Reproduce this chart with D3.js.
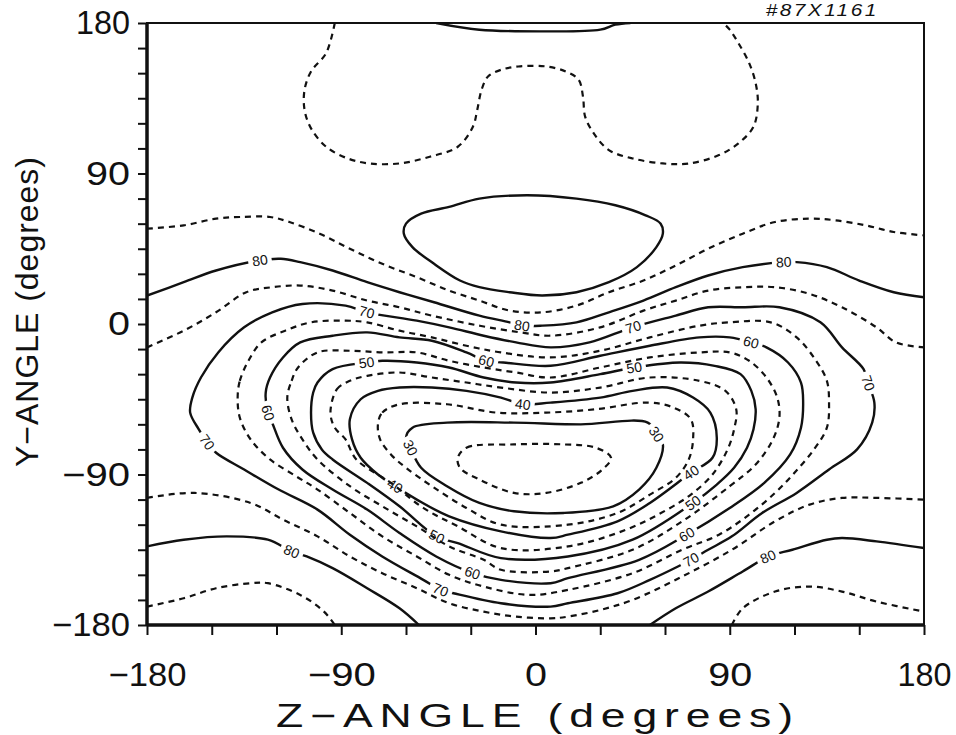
<!DOCTYPE html>
<head>
<meta charset="utf-8">
<style>
body {
    margin: 0;
    background: #fff;
}
svg {
    font-family: "Liberation Sans", Arial, sans-serif;
}
.contour {
    fill: none;
    stroke: #111;
    stroke-width: 2.4;
    stroke-linejoin: round;
}
.dashed {
    stroke-dasharray: 6,5;
    stroke-width: 2.2;
}
.clabel {
    font-size: 14px;
    fill: #111;
}
.tick text {
    font-size: 33px;
    fill: #111;
}
.tick line {
    stroke: #111;
    stroke-width: 2;
}
</style>
</head>
<body>
<div class="contour-viz"></div>

<script src="https://d3js.org/d3.v7.min.js"></script>

<script>
// contour lines, [z-angle, y-angle] in degrees
const top90 = [[-46,180],[-26,176],[2,175],[30,176],[37,179],[44,180]];
const oval90 = [[-4,77],[-26,75],[-40,70],[-53,66],[-60,60],[-61,54],[-57,46],[-47,36],[-35,26],[-26,22],[-12,19],[3,17],[19,19],[34,25],[47,34],[56,46],[59,54],[58,60],[51,65],[37,71],[19,75]];
const top85 = [[-93,180],[-97,162],[-104,151],[-107,140],[-107,128],[-104,117],[-97,106],[-87,99],[-77,96],[-63,96],[-49,100],[-36,106],[-29,118],[-27,128],[-25,140],[-22,148],[-16,152],[-8,154],[5,154],[14,151],[20,146],[22,136],[23,124],[27,114],[34,104],[45,99],[59,96],[71,96],[85,101],[94,108],[101,118],[103,132],[102,144],[99,156],[94,168],[90,176],[87,180]];
const upper85 = [[-180,57],[-163,59],[-148,63],[-137,64],[-123,64],[-114,61],[-100,54],[-86,45],[-71,36],[-55,28],[-40,20],[-26,14],[-12,8],[3,7],[19,11],[34,19],[50,26],[65,35],[80,45],[96,54],[111,61],[127,63],[139,62],[153,59],[166,55],[180,53]];
const upper80 = [[-180,17],[-163,25],[-148,32],[-128,38],[-118,39],[-109,37],[-94,32],[-78,25],[-63,19],[-47,13],[-26,5],[-12,1],[-6,-1],[3,-1],[19,1],[34,7],[50,14],[65,22],[80,29],[96,34],[115,37],[121,37],[135,34],[150,26],[166,19],[180,16]];
const upper75 = [[-180,-14],[-163,-4],[-148,7],[-134,19],[-122,22],[-109,23],[-94,20],[-78,14],[-63,10],[-48,5],[-26,-1],[-7,-5],[7,-7],[30,-2],[50,8],[65,14],[80,20],[96,22],[111,22],[127,18],[142,10],[158,-2],[167,-11],[180,-14]];
const loop70 = [[-160,-53],[-159,-44],[-155,-32],[-147,-17],[-135,-2],[-122,7],[-108,12],[-88,11],[-78,7],[-55,2],[-40,-2],[-24,-7],[-9,-11],[7,-14],[25,-11],[45,-2],[65,5],[80,10],[96,10],[113,10],[132,1],[142,-14],[152,-27],[154,-35],[157,-47],[156,-59],[149,-75],[136,-87],[121,-101],[105,-113],[91,-127],[80,-135],[72,-141],[66,-145],[53,-153],[38,-161],[15,-167],[7,-169],[-16,-167],[-38,-161],[-44,-159],[-52,-153],[-71,-139],[-86,-126],[-101,-111],[-119,-99],[-135,-87],[-148,-77],[-152,-71],[-156,-63]];
const loop65 = [[-138,-44],[-137,-34],[-133,-22],[-127,-11],[-116,-4],[-104,1],[-88,2],[-78,1],[-63,-4],[-48,-8],[-32,-13],[-16,-17],[7,-20],[30,-16],[53,-8],[76,-1],[90,1],[109,1],[121,-8],[130,-22],[135,-34],[136,-47],[135,-62],[129,-75],[120,-89],[111,-101],[99,-114],[85,-126],[68,-135],[45,-149],[15,-159],[-3,-162],[-24,-157],[-40,-150],[-55,-139],[-71,-127],[-86,-113],[-101,-99],[-111,-91],[-123,-81],[-132,-69],[-137,-56]];
const loop60 = [[-125,-41],[-123,-32],[-117,-20],[-109,-11],[-94,-7],[-78,-5],[-63,-8],[-48,-10],[-32,-17],[-23,-22],[-15,-23],[7,-25],[30,-19],[53,-13],[76,-8],[90,-8],[100,-11],[107,-14],[117,-23],[123,-35],[124,-47],[123,-62],[118,-78],[106,-95],[90,-110],[70,-126],[48,-141],[15,-152],[7,-155],[-16,-153],[-29,-149],[-46,-139],[-63,-125],[-78,-111],[-94,-99],[-108,-87],[-117,-74],[-122,-59],[-124,-53]];
const loop55 = [[-115,-44],[-113,-34],[-110,-26],[-101,-17],[-86,-16],[-71,-17],[-55,-17],[-40,-22],[-24,-26],[-9,-29],[7,-32],[30,-26],[53,-20],[76,-17],[90,-17],[99,-22],[107,-32],[112,-44],[113,-56],[110,-69],[102,-84],[90,-97],[68,-118],[45,-135],[15,-146],[7,-148],[-16,-147],[-24,-141],[-40,-133],[-55,-121],[-71,-109],[-86,-97],[-101,-81],[-108,-69],[-113,-57]];
const loop50 = [[-104,-53],[-103,-41],[-101,-35],[-94,-27],[-78,-23],[-71,-22],[-55,-23],[-40,-26],[-24,-32],[-9,-35],[7,-35],[30,-30],[46,-26],[67,-23],[83,-25],[95,-30],[100,-40],[102,-51],[101,-63],[98,-74],[92,-86],[84,-96],[73,-107],[45,-129],[15,-139],[-16,-140],[-36,-131],[-46,-127],[-63,-109],[-78,-95],[-94,-81],[-99,-75],[-103,-65]];
const loop45 = [[-95,-53],[-92,-39],[-86,-34],[-78,-31],[-63,-29],[-48,-32],[-32,-35],[-16,-38],[7,-41],[30,-38],[53,-32],[76,-34],[88,-40],[93,-51],[92,-63],[89,-75],[82,-90],[72,-102],[61,-111],[42,-123],[15,-133],[-16,-134],[-36,-121],[-52,-110],[-67,-95],[-83,-81],[-88,-69],[-93,-62]];
const loop40 = [[-86,-57],[-81,-45],[-73,-40],[-63,-38],[-48,-38],[-32,-40],[-16,-44],[-6,-48],[7,-47],[30,-44],[45,-40],[61,-38],[73,-44],[81,-53],[84,-68],[82,-80],[72,-89],[53,-107],[38,-118],[15,-126],[7,-128],[-16,-124],[-40,-115],[-55,-105],[-65,-97],[-73,-90],[-81,-80],[-85,-69]];
const loop35 = [[-73,-60],[-71,-53],[-63,-48],[-41,-48],[-18,-53],[5,-53],[28,-51],[52,-47],[64,-50],[72,-57],[73,-69],[71,-81],[65,-92],[53,-102],[38,-113],[15,-120],[-16,-120],[-32,-110],[-48,-97],[-60,-86],[-67,-78],[-72,-69]];
const loop30 = [[-57,-62],[-41,-59],[-10,-59],[21,-60],[52,-59],[56,-66],[59,-72],[56,-86],[48,-99],[36,-109],[13,-113],[-10,-112],[-26,-107],[-41,-97],[-53,-86],[-58,-74],[-60,-68]];
const loop25 = [[-36,-80],[-32,-74],[-10,-72],[13,-72],[28,-74],[35,-80],[31,-87],[21,-95],[5,-101],[-10,-101],[-26,-93],[-35,-86]];
const lower75 = [[-180,-104],[-158,-101],[-132,-107],[-117,-117],[-101,-127],[-86,-139],[-71,-149],[-55,-158],[-40,-167],[-24,-172],[-9,-175],[7,-176],[15,-175],[30,-171],[45,-165],[68,-151],[91,-135],[111,-118],[127,-108],[142,-104],[158,-104],[180,-105]];
const lower80L = [[-180,-133],[-163,-129],[-143,-127],[-124,-129],[-113,-136],[-106,-139],[-94,-146],[-78,-158],[-63,-170],[-54,-180]];
const lower80R = [[53,-180],[65,-170],[80,-160],[96,-148],[108,-139],[119,-135],[135,-129],[142,-128],[158,-130],[180,-134]];
const lower85L = [[-180,-169],[-163,-164],[-148,-158],[-132,-155],[-124,-155],[-109,-162],[-98,-172],[-93,-180]];
const lower85R = [[91,-180],[96,-170],[111,-160],[127,-157],[142,-160],[158,-166],[180,-172]];

// contour labels: [level, z, y]
const labels = [
    [80,-128,38],[80,-6,-1],[80,115,37],[80,-113,-136],[80,108,-139],
    [70,-78,7],[70,45,-2],[70,154,-35],[70,72,-141],[70,-44,-159],[70,-152,-71],
    [60,-124,-53],[60,-23,-22],[60,100,-11],[60,70,-126],[60,-29,-149],
    [50,-78,-23],[50,46,-26],[50,73,-107],[50,-46,-127],
    [40,-6,-48],[40,72,-89],[40,-65,-97],
    [30,56,-66],[30,-58,-74]
];

const majorTicks = [-180, -90, 0, 90, 180];
const xMinorStep = 30;
const yMinorStep = 15;

const contours = [
    {level: 90, pts: top90},
    {level: 90, pts: oval90, closed: true},
    {level: 85, pts: top85},
    {level: 85, pts: upper85},
    {level: 80, pts: upper80},
    {level: 75, pts: upper75},
    {level: 70, pts: loop70, closed: true},
    {level: 65, pts: loop65, closed: true},
    {level: 60, pts: loop60, closed: true},
    {level: 55, pts: loop55, closed: true},
    {level: 50, pts: loop50, closed: true},
    {level: 45, pts: loop45, closed: true},
    {level: 40, pts: loop40, closed: true},
    {level: 35, pts: loop35, closed: true},
    {level: 30, pts: loop30, closed: true},
    {level: 25, pts: loop25, closed: true},
    {level: 75, pts: lower75},
    {level: 80, pts: lower80L},
    {level: 80, pts: lower80R},
    {level: 85, pts: lower85L},
    {level: 85, pts: lower85R}
];

const width = 956, height = 735;
const margin = {top: 23, right: 32, bottom: 110, left: 147};

const fmt = d => d < 0 ? "\u2212" + Math.abs(d) : String(d);
// plotter digits are wider than Arial's, "1" is a bare stroke
const labelWidth = s => Array.from(s).reduce((w, ch) => w + (ch === "1" ? 10 : ch === "\u2212" ? 24 : 22), 0);

const svg = d3.select(".contour-viz")
    .append("svg")
        .attr("width", width)
        .attr("height", height);

const x = d3.scaleLinear().domain([-180, 180]).range([margin.left, width - margin.right]);
const y = d3.scaleLinear().domain([-180, 180]).range([height - margin.bottom, margin.top]);

const defs = svg.append("defs");
defs.append("clipPath").attr("id", "plot-clip")
    .append("rect")
        .attr("x", x(-180)).attr("y", y(180))
        .attr("width", x(180) - x(-180)).attr("height", y(-180) - y(180));

// axes
const xAxis = d3.axisBottom(x)
    .tickValues(d3.range(-180, 181, xMinorStep))
    .tickSize(10).tickSizeOuter(0).tickPadding(28)
    .tickFormat(d => majorTicks.includes(d) ? fmt(d) : "");
const yAxis = d3.axisLeft(y)
    .tickValues(d3.range(-180, 181, yMinorStep))
    .tickSize(9).tickSizeOuter(0).tickPadding(8)
    .tickFormat(d => majorTicks.includes(d) ? fmt(d) : "");

const gx = svg.append("g").attr("transform", "translate(0," + y(-180) + ")").call(xAxis);
const gy = svg.append("g").attr("transform", "translate(" + x(-180) + ",0)").call(yAxis);
gx.select(".domain").remove();
gy.select(".domain").remove();
[gx, gy].forEach(g => g.selectAll(".tick text")
    .filter(d => majorTicks.includes(d))
    .attr("textLength", d => labelWidth(fmt(d)))
    .attr("lengthAdjust", "spacingAndGlyphs"));

// frame
svg.append("rect")
    .attr("x", x(-180)).attr("y", y(180))
    .attr("width", x(180) - x(-180)).attr("height", y(-180) - y(180))
    .attr("fill", "none").attr("stroke", "#111").attr("stroke-width", 2);
svg.append("line")
    .attr("x1", x(-180)).attr("x2", x(-180)).attr("y1", y(180)).attr("y2", y(-180))
    .attr("stroke", "#111").attr("stroke-width", 3.5);
svg.append("line")
    .attr("x1", x(-180)).attr("x2", x(180)).attr("y1", y(-180)).attr("y2", y(-180))
    .attr("stroke", "#111").attr("stroke-width", 3.5);

// contours
const openLine = d3.line().x(d => x(d[0])).y(d => y(d[1])).curve(d3.curveCatmullRom.alpha(0.5));
const closedLine = d3.line().x(d => x(d[0])).y(d => y(d[1])).curve(d3.curveCatmullRomClosed.alpha(0.5));

const plot = svg.append("g").attr("clip-path", "url(#plot-clip)");
const paths = plot.selectAll("path.contour")
    .data(contours)
    .join("path")
        .attr("class", d => "contour" + (d.level % 10 ? " dashed" : ""))
        .attr("d", d => (d.closed ? closedLine : openLine)(d.pts));

// snap each label onto its contour and follow the line direction
const samples = paths.nodes().map(node => {
    const len = node.getTotalLength();
    const s = [];
    for (let l = 0; l <= len; l += 1.5) {
        const p = node.getPointAtLength(l);
        s.push({l: l, x: p.x, y: p.y});
    }
    return {node: node, len: len, s: s};
});

const placed = labels.map(([lev, lz, ly]) => {
    const px = x(lz), py = y(ly);
    let best = null;
    contours.forEach((c, i) => {
        if (c.level !== lev) return;
        samples[i].s.forEach(p => {
            const d = (p.x - px) * (p.x - px) + (p.y - py) * (p.y - py);
            if (!best || d < best.d) best = {d: d, i: i, p: p};
        });
    });
    const sm = samples[best.i];
    const a = sm.node.getPointAtLength(Math.max(0, best.p.l - 6));
    const b = sm.node.getPointAtLength(Math.min(sm.len, best.p.l + 6));
    let ang = Math.atan2(b.y - a.y, b.x - a.x) * 180 / Math.PI;
    if (ang > 90) ang -= 180;
    if (ang <= -90) ang += 180;
    return {text: String(lev), i: best.i, x: best.p.x, y: best.p.y, ang: ang};
});

const texts = svg.append("g").selectAll("text")
    .data(placed)
    .join("text")
        .attr("class", "clabel")
        .attr("text-anchor", "middle")
        .attr("dy", "0.35em")
        .attr("transform", d => "translate(" + d.x + "," + d.y + ") rotate(" + d.ang + ")")
        .text(d => d.text);
texts.each(function(d) { d.w = this.getComputedTextLength(); });

// break the line under its own labels
contours.forEach((c, i) => {
    const mine = placed.filter(p => p.i === i);
    if (!mine.length) return;
    const m = defs.append("mask").attr("id", "gap" + i)
        .attr("maskUnits", "userSpaceOnUse")
        .attr("x", 0).attr("y", 0).attr("width", width).attr("height", height);
    m.append("rect").attr("width", width).attr("height", height).attr("fill", "#fff");
    mine.forEach(p => m.append("rect")
        .attr("x", -p.w / 2 - 4).attr("y", -5)
        .attr("width", p.w + 8).attr("height", 10)
        .attr("fill", "#000")
        .attr("transform", "translate(" + p.x + "," + p.y + ") rotate(" + p.ang + ")"));
    d3.select(paths.nodes()[i]).attr("mask", "url(#gap" + i + ")");
});

// titles (plotter lettering is wide, so glyphs are stretched a little)
svg.append("text")
    .attr("transform", "translate(38," + ((y(180) + y(-180)) / 2 - 12) + ") rotate(-90)")
    .attr("text-anchor", "middle")
    .attr("font-size", 32)
    .attr("textLength", 310)
    .attr("lengthAdjust", "spacing")
    .attr("fill", "#111")
    .text("Y\u2212ANGLE (degrees)");
svg.append("text")
    .attr("transform", "translate(" + ((x(-180) + x(180)) / 2 - 1) + ",727) scale(1.35,1)")
    .attr("text-anchor", "middle")
    .attr("font-size", 33)
    .attr("textLength", 383)
    .attr("lengthAdjust", "spacing")
    .attr("fill", "#111")
    .text("Z\u2212ANGLE (degrees)");
svg.append("text")
    .attr("transform", "translate(821,16) scale(1.3,1)")
    .attr("text-anchor", "middle")
    .attr("font-size", 16)
    .attr("font-style", "italic")
    .attr("textLength", 85)
    .attr("lengthAdjust", "spacing")
    .attr("fill", "#111")
    .text("#87X1161");
</script>
</body>
